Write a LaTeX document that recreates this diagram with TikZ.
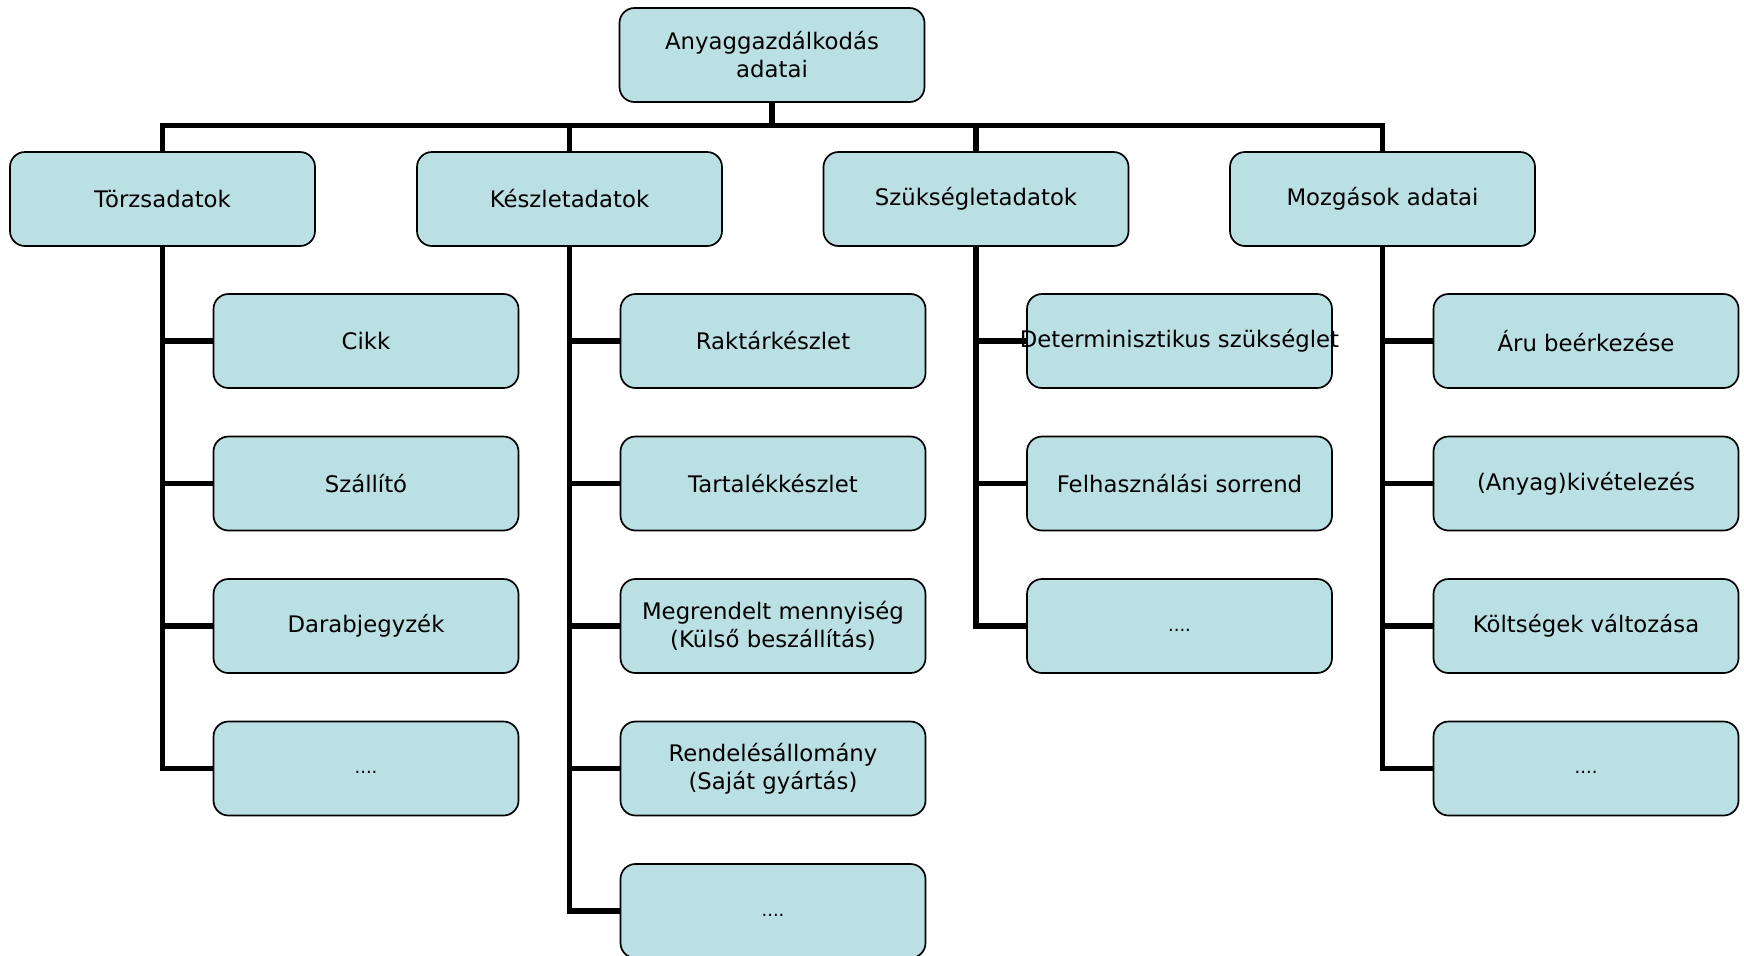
\documentclass[tikz,border=0pt]{standalone}
\usepackage{fontspec}
\setmainfont{DejaVu Sans}
\definecolor{boxfill}{HTML}{BBE0E3}
\newcommand{\moredots}{\raisebox{-2.5pt}[0pt][0pt]{....}}
\begin{document}
\begin{tikzpicture}[x=0.5pt,y=-0.5pt,
  box/.style={draw=black, line width=0.85pt, fill=boxfill, rounded corners=7.5pt,
    minimum width=152.5pt, minimum height=47pt, inner sep=0pt, align=center,
    font=\fontsize{11.4}{14}\selectfont},
  dots/.style={font=\fontsize{9}{11}\selectfont},
  link/.style={line width=2.6pt}]
\useasboundingbox (0,0) rectangle (1744,955);

% root
\node[box] (root) at (772,55) {Anyaggazdálkodás\\adatai};

% first level
\node[box] (t1) at (162.5,199) {Törzsadatok};
\node[box] (t2) at (569.5,199) {Készletadatok};
\node[box] (t3) at (976,199) {Szükségletadatok};
\node[box] (t4) at (1382.5,199) {Mozgások adatai};

% Törzsadatok children
\node[box] (a1) at (366,341) {Cikk};
\node[box] (a2) at (366,483.5) {Szállító};
\node[box] (a3) at (366,626) {Darabjegyzék};
\node[box, dots] (a4) at (366,768.5) {\moredots};

% Készletadatok children
\node[box] (b1) at (773,341) {Raktárkészlet};
\node[box] (b2) at (773,483.5) {Tartalékkészlet};
\node[box] (b3) at (773,626) {Megrendelt mennyiség\\(Külső beszállítás)};
\node[box] (b4) at (773,768.5) {Rendelésállomány\\(Saját gyártás)};
\node[box, dots] (b5) at (773,911) {\moredots};

% Szükségletadatok children
\node[box] (c1) at (1179.5,341) {\makebox[0pt]{Determinisztikus szükséglet}};
\node[box] (c2) at (1179.5,483.5) {Felhasználási sorrend};
\node[box, dots] (c3) at (1179.5,626) {\moredots};

% Mozgások adatai children
\node[box] (d1) at (1586,341) {Áru beérkezése};
\node[box] (d2) at (1586,483.5) {(Anyag)kivételezés};
\node[box] (d3) at (1586,626) {Költségek változása};
\node[box, dots] (d4) at (1586,768.5) {\moredots};

% bus below the root
\coordinate (bus) at (772,125.7);
\draw[link] (root.south) -- (bus);
\draw[link] (t1.north) |- (bus) -| (t4.north);
\draw[link] (t2.north) -- (t2.north |- bus);
\draw[link] (t3.north) -- (t3.north |- bus);

% trunks to the children
\draw[link] (t1.south) |- (a4.west);
\foreach \n in {a1,a2,a3} \draw[link] (t1.south |- \n.west) -- (\n.west);
\draw[link] (t2.south) |- (b5.west);
\foreach \n in {b1,b2,b3,b4} \draw[link] (t2.south |- \n.west) -- (\n.west);
\draw[link] (t3.south) |- (c3.west);
\foreach \n in {c1,c2} \draw[link] (t3.south |- \n.west) -- (\n.west);
\draw[link] (t4.south) |- (d4.west);
\foreach \n in {d1,d2,d3} \draw[link] (t4.south |- \n.west) -- (\n.west);
\end{tikzpicture}
\end{document}
